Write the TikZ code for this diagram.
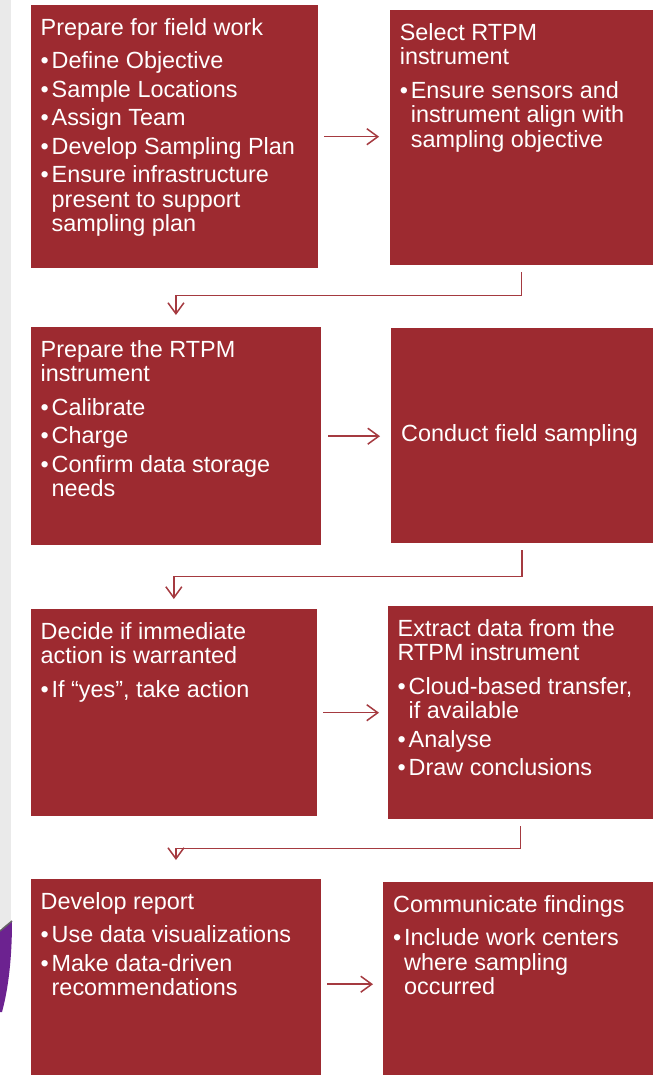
\documentclass[tikz,border=0pt]{standalone}
\usepackage{fontspec}
\setmainfont{Liberation Sans}
\usetikzlibrary{arrows.meta}
\definecolor{boxred}{HTML}{9D2A30}
\definecolor{arrred}{HTML}{A53A40}
\definecolor{stripgray}{HTML}{EAEAEA}
\definecolor{swoosh}{HTML}{6C2290}
\newcommand\bxtext[3]{\parbox[t][#2][t]{#1}{\raggedright\rule{0pt}{30pt}#3}}
\newcommand\bxcenter[3]{\parbox[c][#2][c]{#1}{\raggedright #3}}
\newcommand\bitem{\par\vspace{4pt}\hangindent=11pt\hangafter=1\noindent\makebox[11pt][l]{•}}
\newcommand\tgap{\par\vspace{5pt}}
\newcommand\nl{\newline}
\begin{document}
\begin{tikzpicture}[x=1pt,y=-1pt,
  box/.style={fill=boxred,text=white,inner xsep=10pt,inner ysep=0pt,anchor=north west,
    font=\fontsize{23.4}{24.5}\selectfont},
  arr/.style={draw=arrred,line width=1.5pt,-{Straight Barb[length=11pt,width=16pt]}}]
\clip (0,0) rectangle (664,1075);
\fill[white] (0,0) rectangle (664,1075);
\fill[stripgray] (0,0) rectangle (11,928);
\fill[swoosh] (0,931) -- (12,921) .. controls (12,960) and (8,990) .. (2,1012) -- (0,1012) -- cycle;
\draw[black!60,line width=1.5pt] (0,931) -- (12,921);

\node[box] (b1) at (30.5,5) {\bxtext{267pt}{263pt}{Prepare for field work\tgap
  \bitem Define Objective
  \bitem Sample Locations
  \bitem Assign Team
  \bitem Develop Sampling Plan
  \bitem Ensure infrastructure\nl present to support\nl sampling plan}};
\node[box] (b2) at (389.6,10) {\bxtext{243.4pt}{255pt}{Select RTPM\nl instrument\tgap
  \bitem Ensure sensors and\nl instrument align with\nl sampling objective}};
\node[box] (b3) at (30.5,327) {\bxtext{270.5pt}{218pt}{Prepare the RTPM\nl instrument\tgap
  \bitem Calibrate
  \bitem Charge
  \bitem Confirm data storage\nl needs}};
\node[box] (b4) at (391,328) {\bxcenter{242pt}{215pt}{Conduct field sampling}};
\node[box] (b5) at (30.5,609) {\bxtext{266.3pt}{207pt}{Decide if immediate\nl action is warranted\tgap
  \bitem If “yes”, take action}};
\node[box] (b6) at (387.5,606) {\bxtext{245.5pt}{213pt}{Extract data from the\nl RTPM instrument\tgap
  \bitem Cloud-based transfer,\nl if available
  \bitem Analyse
  \bitem Draw conclusions}};
\node[box] (b7) at (30.5,879) {\bxtext{270.5pt}{210pt}{Develop report\tgap
  \bitem Use data visualizations
  \bitem Make data-driven\nl recommendations}};
\node[box] (b8) at (383,882) {\bxtext{250pt}{207pt}{Communicate findings\tgap
  \bitem Include work centers\nl where sampling\nl occurred}};

\draw[arr,shorten <=6.5pt,shorten >=10.5pt] (b1.east) -- (b1.east -| b2.west);
\draw[arr,shorten <=7pt,shorten >=11pt] (b3.east) -- (b3.east -| b4.west);
\draw[arr,shorten <=6pt,shorten >=8.5pt] (b5.east) -- (b5.east -| b6.west);
\draw[arr,shorten <=6pt,shorten >=10pt] (b7.east) -- (b7.east -| b8.west);

\draw[arr] ([yshift=-7pt]b2.south) -- ++(0,23) -| ([yshift=12pt]b3.north);
\draw[arr] ([yshift=-7pt]b4.south) -- ++(0,26) -| ([yshift=10pt]b5.north);
\draw[arr] ([yshift=-7pt]b6.south) -- ++(0,22) -| ([yshift=19pt]b7.north);
\end{tikzpicture}
\end{document}
